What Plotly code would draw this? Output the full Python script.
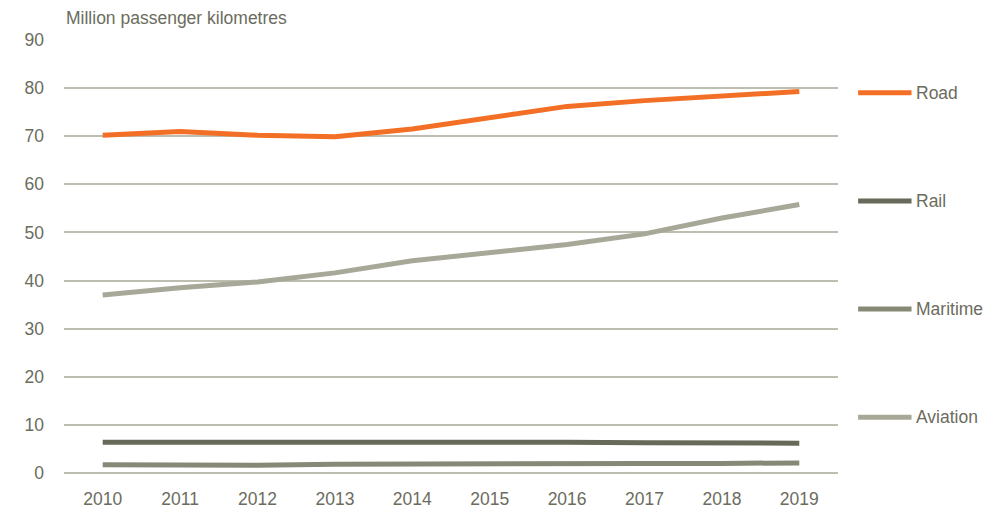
import plotly.graph_objects as go

years = ["2010", "2011", "2012", "2013", "2014", "2015", "2016", "2017", "2018", "2019"]
road = [70.2, 71.0, 70.2, 69.9, 71.5, 73.8, 76.2, 77.4, 78.3, 79.3]
rail = [6.4, 6.4, 6.6, 6.6, 6.5, 6.5, 6.4, 6.3, 6.2, 6.2]
maritime = [1.7, 1.6, 1.6, 1.8, 1.9, 1.9, 2.0, 2.0, 2.0, 2.1]
aviation = [37.0, 38.5, 39.7, 41.6, 44.1, 45.7, 47.5, 49.7, 53.0, 55.8]

series_names = ["Road", "Rail", "Maritime", "Aviation"]
series_vals = [road, rail, maritime, aviation]
colors = ["#F26F25", "#676A58", "#878977", "#A7A897"]

FONT = "Liberation Sans, Arial, sans-serif"
TXT = "#6B6C5E"
FS = 17.5

fig = go.Figure()
# draw order: keep road on top
for name, vals, col in zip(series_names[::-1], series_vals[::-1], colors[::-1]):
    fig.add_trace(go.Scatter(x=years, y=vals, name=name, mode="lines",
                             line=dict(color=col, width=5), showlegend=False))

# manual legend at right side
legend_y = [0.878, 0.628, 0.379, 0.129]
for name, col, ly in zip(series_names, colors, legend_y):
    fig.add_shape(type="line", xref="paper", yref="paper",
                  x0=1.026, x1=1.095, y0=ly, y1=ly,
                  line=dict(color=col, width=5))
    fig.add_annotation(text=name, xref="paper", yref="paper", x=1.0985, y=ly,
                       xanchor="left", yanchor="middle", showarrow=False,
                       font=dict(size=FS, color=TXT, family=FONT))

fig.add_annotation(text="Million passenger kilometres", xref="paper", yref="paper",
                   x=0, y=1, yshift=22, xanchor="left", yanchor="middle", showarrow=False,
                   font=dict(size=FS, color=TXT, family=FONT))

fig.update_layout(
    width=1000, height=518,
    margin=dict(l=56, r=170, t=32, b=53),
    paper_bgcolor="white", plot_bgcolor="white",
    font=dict(family=FONT, color=TXT, size=FS),
    xaxis=dict(type="category", range=[-0.5, 9.5], showgrid=False, showline=False,
               zeroline=False, ticks="", ticklabelstandoff=13,
               tickfont=dict(size=FS, color=TXT, family=FONT)),
    yaxis=dict(range=[0, 90], dtick=10, showgrid=True, gridcolor="#BDBEAF", gridwidth=1.5,
               zeroline=True, zerolinecolor="#BDBEAF", zerolinewidth=1.5, showline=False,
               ticks="", ticklabelstandoff=19,
               tickfont=dict(size=FS, color=TXT, family=FONT)),
)

fig.write_html("out.html")
